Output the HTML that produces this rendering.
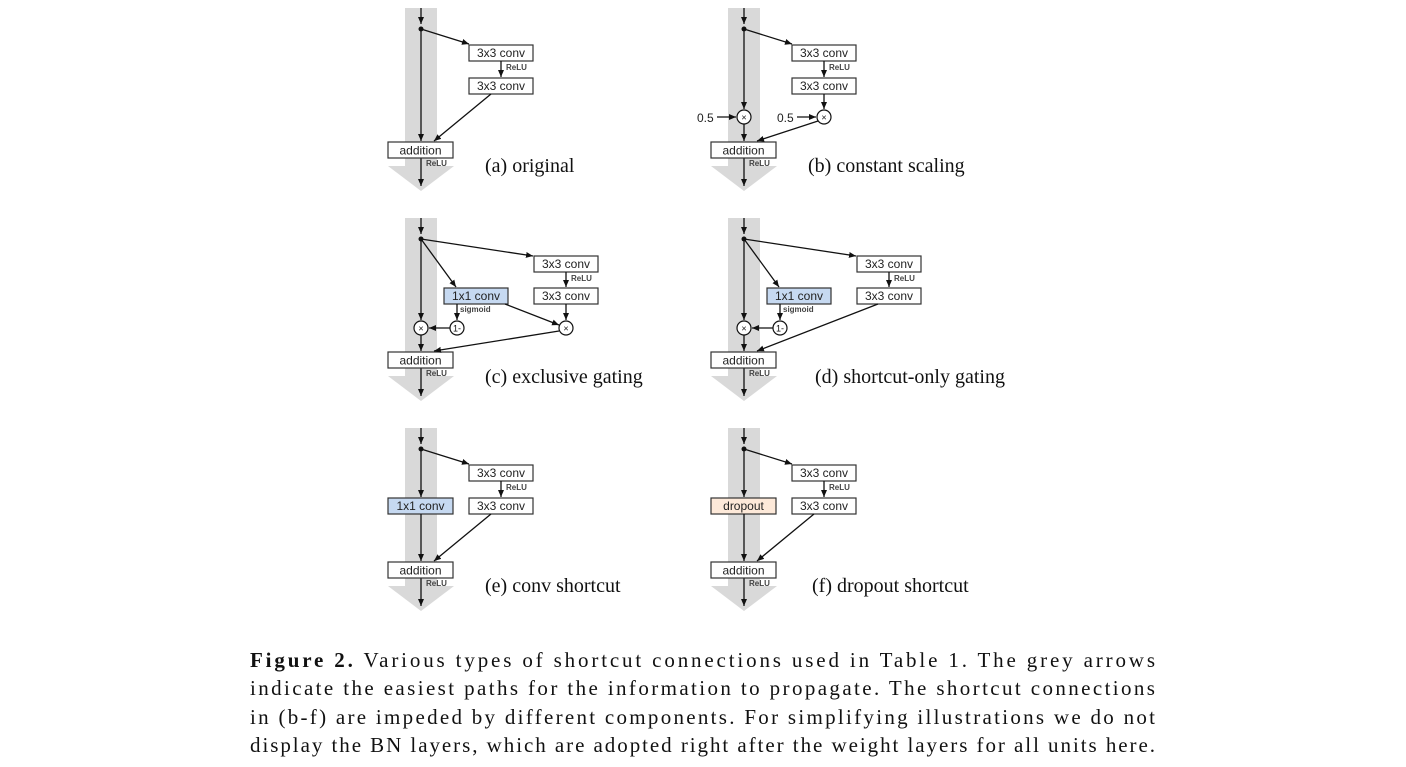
<!DOCTYPE html>
<html><head><meta charset="utf-8"><style>
html,body{margin:0;padding:0;background:#fff;}
svg{display:block;}
.bx{fill:#fff;stroke:#333;stroke-width:1.2;}
.bl{fill:#c6d9f1;}
.or{fill:#fde9d9;}
.ln{stroke:#111;stroke-width:1.3;fill:none;}
.t{font-family:"Liberation Sans",sans-serif;font-size:12px;fill:#222;}
.r{font-family:"Liberation Sans",sans-serif;font-size:8px;font-weight:bold;fill:#444;}
.cap{font-family:"Liberation Serif",serif;font-size:20px;fill:#111;}
.ft{font-family:"Liberation Serif",serif;font-size:21px;fill:#111;}
.c{fill:#fff;stroke:#111;stroke-width:1.2;}
.h{font-family:"Liberation Sans",sans-serif;font-size:9px;fill:#111;}
</style></head><body>
<svg width="1406" height="767" viewBox="0 0 1406 767" xmlns="http://www.w3.org/2000/svg">
<defs>
<marker id="a" markerWidth="8" markerHeight="8" refX="7" refY="4" orient="auto" markerUnits="userSpaceOnUse"><path d="M0,1 L7,4 L0,7 Z" fill="#111"/></marker>
<g id="base">
<rect x="405" y="8" width="32" height="158" fill="#d9d9d9"/>
<path d="M388,166 L454,166 L421,191 Z" fill="#d9d9d9"/>
<line class="ln" x1="421" y1="8" x2="421" y2="24" marker-end="url(#a)"/>
<circle cx="421" cy="29" r="2.5" fill="#111"/>
<line class="ln" x1="421" y1="158" x2="421" y2="186" marker-end="url(#a)"/>
<rect class="bx" x="388" y="142" width="65" height="16"/>
<text class="t" x="420.5" y="154.5" text-anchor="middle">addition</text>
<text class="r" x="426" y="166">ReLU</text>
</g>
<g id="convs">
<line class="ln" x1="421" y1="29" x2="469" y2="44" marker-end="url(#a)"/>
<rect class="bx" x="469" y="45" width="64" height="16"/>
<text class="t" x="501" y="57" text-anchor="middle">3x3 conv</text>
<line class="ln" x1="501" y1="61" x2="501" y2="77" marker-end="url(#a)"/>
<text class="r" x="506" y="70">ReLU</text>
<rect class="bx" x="469" y="78" width="64" height="16"/>
<text class="t" x="501" y="90" text-anchor="middle">3x3 conv</text>
</g>
<g id="gconvs">
<line class="ln" x1="421" y1="29" x2="533" y2="46" marker-end="url(#a)"/>
<rect class="bx" x="534" y="46" width="64" height="16"/>
<text class="t" x="566" y="58" text-anchor="middle">3x3 conv</text>
<line class="ln" x1="566" y1="62" x2="566" y2="77" marker-end="url(#a)"/>
<text class="r" x="571" y="71">ReLU</text>
<rect class="bx" x="534" y="78" width="64" height="16"/>
<text class="t" x="566" y="90" text-anchor="middle">3x3 conv</text>
<line class="ln" x1="421" y1="29" x2="456" y2="77" marker-end="url(#a)"/>
<rect class="bx bl" x="444" y="78" width="64" height="16"/>
<text class="t" x="476" y="90" text-anchor="middle">1x1 conv</text>
<line class="ln" x1="457" y1="94" x2="457" y2="110" marker-end="url(#a)"/>
<text class="r" x="460" y="102">sigmoid</text>
<circle class="c" cx="457" cy="118" r="7"/>
<text class="h" x="457" y="121.5" text-anchor="middle">1-</text>
<line class="ln" x1="450" y1="118" x2="429" y2="118" marker-end="url(#a)"/>
<line class="ln" x1="421" y1="29" x2="421" y2="110" marker-end="url(#a)"/>
<circle class="c" cx="421" cy="118" r="7"/>
<text class="h" x="421" y="121.5" text-anchor="middle">×</text>
<line class="ln" x1="421" y1="125" x2="421" y2="141" marker-end="url(#a)"/>
</g>
</defs>

<!-- (a) -->
<g>
<use href="#base"/><use href="#convs"/>
<line class="ln" x1="421" y1="29" x2="421" y2="141" marker-end="url(#a)"/>
<line class="ln" x1="491" y1="94" x2="434" y2="141" marker-end="url(#a)"/>
<text class="cap" x="485" y="172">(a) original</text>
</g>

<!-- (b) -->
<g transform="translate(323,0)">
<use href="#base"/><use href="#convs"/>
<line class="ln" x1="421" y1="29" x2="421" y2="109" marker-end="url(#a)"/>
<circle class="c" cx="421" cy="117" r="7"/>
<text class="h" x="421" y="120.5" text-anchor="middle">×</text>
<line class="ln" x1="421" y1="124" x2="421" y2="141" marker-end="url(#a)"/>
<text class="t" x="374" y="122" style="fill:#222">0.5</text>
<line class="ln" x1="394" y1="117" x2="413" y2="117" marker-end="url(#a)"/>
<line class="ln" x1="501" y1="94" x2="501" y2="109" marker-end="url(#a)"/>
<circle class="c" cx="501" cy="117" r="7"/>
<text class="h" x="501" y="120.5" text-anchor="middle">×</text>
<text class="t" x="454" y="122">0.5</text>
<line class="ln" x1="474" y1="117" x2="493" y2="117" marker-end="url(#a)"/>
<line class="ln" x1="495" y1="121" x2="434" y2="141" marker-end="url(#a)"/>
<text class="cap" x="485" y="172">(b) constant scaling</text>
</g>

<!-- (c) -->
<g transform="translate(0,210)">
<use href="#base"/><use href="#gconvs"/>
<line class="ln" x1="566" y1="94" x2="566" y2="110" marker-end="url(#a)"/>
<line class="ln" x1="505" y1="94" x2="559" y2="115" marker-end="url(#a)"/>
<circle class="c" cx="566" cy="118" r="7"/>
<text class="h" x="566" y="121.5" text-anchor="middle">×</text>
<line class="ln" x1="559" y1="121" x2="434" y2="141" marker-end="url(#a)"/>
<text class="cap" x="485" y="173">(c) exclusive gating</text>
</g>

<!-- (d) -->
<g transform="translate(323,210)">
<use href="#base"/><use href="#gconvs"/>
<line class="ln" x1="555" y1="94" x2="434" y2="141" marker-end="url(#a)"/>
<text class="cap" x="492" y="173">(d) shortcut-only gating</text>
</g>

<!-- (e) -->
<g transform="translate(0,420)">
<use href="#base"/><use href="#convs"/>
<line class="ln" x1="421" y1="29" x2="421" y2="77" marker-end="url(#a)"/>
<rect class="bx bl" x="388" y="78" width="65" height="16"/>
<text class="t" x="420.5" y="90" text-anchor="middle">1x1 conv</text>
<line class="ln" x1="421" y1="94" x2="421" y2="141" marker-end="url(#a)"/>
<line class="ln" x1="491" y1="94" x2="434" y2="141" marker-end="url(#a)"/>
<text class="cap" x="485" y="172">(e) conv shortcut</text>
</g>

<!-- (f) -->
<g transform="translate(323,420)">
<use href="#base"/><use href="#convs"/>
<line class="ln" x1="421" y1="29" x2="421" y2="77" marker-end="url(#a)"/>
<rect class="bx or" x="388" y="78" width="65" height="16"/>
<text class="t" x="420.5" y="90" text-anchor="middle">dropout</text>
<line class="ln" x1="421" y1="94" x2="421" y2="141" marker-end="url(#a)"/>
<line class="ln" x1="491" y1="94" x2="434" y2="141" marker-end="url(#a)"/>
<text class="cap" x="489" y="172">(f) dropout shortcut</text>
</g>

<text class="ft" x="250" y="667" textLength="905" lengthAdjust="spacing"><tspan font-weight="bold">Figure 2.</tspan> Various types of shortcut connections used in Table 1. The grey arrows</text>
<text class="ft" x="250" y="695" textLength="905" lengthAdjust="spacing">indicate the easiest paths for the information to propagate. The shortcut connections</text>
<text class="ft" x="250" y="724" textLength="905" lengthAdjust="spacing">in (b-f) are impeded by different components. For simplifying illustrations we do not</text>
<text class="ft" x="250" y="752" textLength="905" lengthAdjust="spacing">display the BN layers, which are adopted right after the weight layers for all units here.</text>
</svg>
</body></html>
